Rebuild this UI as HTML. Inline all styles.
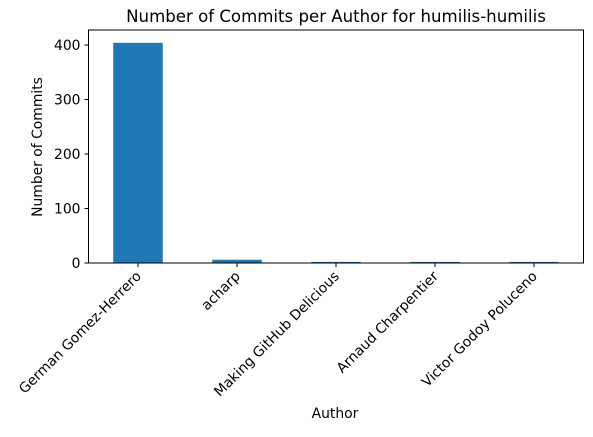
<!DOCTYPE html>
<html><head><meta charset="utf-8"><style>
body{margin:0;background:#fff;font-family:"Liberation Sans","DejaVu Sans",sans-serif;}
</style></head><body>
<svg width="593" height="432" xmlns="http://www.w3.org/2000/svg" id="c" font-family="DejaVu Sans, Liberation Sans, sans-serif">
<text x="336" y="22" text-anchor="middle" font-size="16.6">Number of Commits per Author for humilis-humilis</text>
<text x="335" y="418" text-anchor="middle" font-size="13.9">Author</text>
<text transform="translate(42,147) rotate(-90)" text-anchor="middle" font-size="13.9">Number of Commits</text>
</svg>
<script>
const categories=["German Gomez-Herrero","acharp","Making GitHub Delicious","Arnaud Charpentier","Victor Godoy Poluceno"];
const commits=[404,6,2,2,2];
const yTicks=[0,100,200,300,400];
const svg=document.getElementById('c');
const NS="http://www.w3.org/2000/svg";
const L=88.5,R=583.5,T=30,B=263;
const y=v=>B-v*(218/400);
const step=(R-L)/categories.length;
const x=i=>L+step*(i+0.5);
function mk(t,a){const e=document.createElementNS(NS,t);for(const k in a)e.setAttribute(k,a[k]);svg.appendChild(e);return e;}
commits.forEach((v,i)=>{
 const r=mk('rect',{x:x(i)-step/4,y:y(v),width:step/2,height:B-y(v),fill:'#1f77b4'});
 
 
});
const f=mk('rect',{x:L,y:T,width:R-L,height:B-T,fill:'none',stroke:'#000','stroke-width':1});


yTicks.forEach(v=>{
 mk('line',{x1:L-4,x2:L,y1:y(v),y2:y(v),stroke:'#000'});
 const t=mk('text',{x:L-8,y:y(v)+5,'text-anchor':'end','font-size':13.9});
 t.textContent=v;
 
 
});
categories.forEach((c,i)=>{
 mk('line',{x1:x(i),x2:x(i),y1:B,y2:B+4,stroke:'#000'});
 const t=mk('text',{transform:`translate(${x(i)+4},${B+14}) rotate(-45)`,'text-anchor':'end','font-size':13.9});
 t.textContent=c;
 
 
});
</script>
</body></html>
